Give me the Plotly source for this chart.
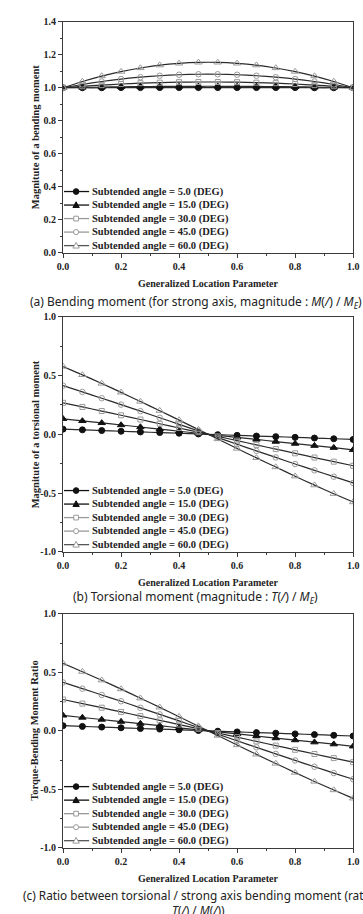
import plotly.graph_objects as go

# ---------------- data ----------------
x_pos = [0.0, 0.0667, 0.1333, 0.2, 0.2667, 0.3333, 0.4, 0.4667,
         0.5333, 0.6, 0.6667, 0.7333, 0.8, 0.8667, 0.9333, 1.0]

angles = ["5.0", "15.0", "30.0", "45.0", "60.0"]

# (a) bending moment magnitude
bend_5 = [1.000, 1.000, 1.000, 1.001, 1.001, 1.001, 1.001, 1.001,
          1.001, 1.001, 1.001, 1.001, 1.001, 1.000, 1.000, 1.000]
bend_15 = [1.000, 1.002, 1.004, 1.006, 1.007, 1.008, 1.008, 1.009,
           1.009, 1.008, 1.008, 1.007, 1.006, 1.004, 1.002, 1.000]
bend_30 = [1.000, 1.009, 1.016, 1.023, 1.028, 1.031, 1.034, 1.035,
           1.035, 1.034, 1.031, 1.028, 1.023, 1.016, 1.009, 1.000]
bend_45 = [1.000, 1.020, 1.038, 1.053, 1.064, 1.073, 1.079, 1.082,
           1.082, 1.079, 1.073, 1.064, 1.053, 1.038, 1.020, 1.000]
bend_60 = [1.000, 1.038, 1.071, 1.098, 1.120, 1.137, 1.148, 1.154,
           1.154, 1.148, 1.137, 1.120, 1.098, 1.071, 1.038, 1.000]

# (b) torsional moment magnitude
tors_5 = [0.044, 0.038, 0.032, 0.026, 0.020, 0.015, 0.009, 0.003,
          -0.003, -0.009, -0.015, -0.020, -0.026, -0.032, -0.038, -0.044]
tors_15 = [0.132, 0.114, 0.097, 0.079, 0.062, 0.044, 0.026, 0.009,
           -0.009, -0.026, -0.044, -0.062, -0.079, -0.097, -0.114, -0.132]
tors_30 = [0.268, 0.233, 0.198, 0.162, 0.126, 0.090, 0.054, 0.018,
           -0.018, -0.054, -0.090, -0.126, -0.162, -0.198, -0.233, -0.268]
tors_45 = [0.414, 0.361, 0.307, 0.253, 0.197, 0.141, 0.085, 0.028,
           -0.028, -0.085, -0.141, -0.197, -0.253, -0.307, -0.361, -0.414]
tors_60 = [0.577, 0.506, 0.433, 0.357, 0.279, 0.201, 0.121, 0.040,
           -0.040, -0.121, -0.201, -0.279, -0.357, -0.433, -0.506, -0.577]

# (c) torque / bending moment ratio
ratio_5 = [0.044, 0.038, 0.032, 0.026, 0.020, 0.015, 0.009, 0.003,
           -0.003, -0.009, -0.015, -0.020, -0.026, -0.032, -0.038, -0.044]
ratio_15 = [0.132, 0.114, 0.097, 0.079, 0.062, 0.044, 0.026, 0.009,
            -0.009, -0.026, -0.044, -0.062, -0.079, -0.097, -0.114, -0.132]
ratio_30 = [0.268, 0.233, 0.198, 0.162, 0.126, 0.090, 0.054, 0.018,
            -0.018, -0.054, -0.090, -0.126, -0.162, -0.198, -0.233, -0.268]
ratio_45 = [0.414, 0.361, 0.307, 0.253, 0.197, 0.141, 0.085, 0.028,
            -0.028, -0.085, -0.141, -0.197, -0.253, -0.307, -0.361, -0.414]
ratio_60 = [0.577, 0.506, 0.433, 0.357, 0.279, 0.201, 0.121, 0.040,
            -0.040, -0.121, -0.201, -0.279, -0.357, -0.433, -0.506, -0.577]

x_ticks = [0.0, 0.2, 0.4, 0.6, 0.8, 1.0]
x_ticklabels = ["0.0", "0.2", "0.4", "0.6", "0.8", "1.0"]
y1_ticks = [0.0, 0.2, 0.4, 0.6, 0.8, 1.0, 1.2, 1.4]
y1_ticklabels = ["0.0", "0.2", "0.4", "0.6", "0.8", "1.0", "1.2", "1.4"]
y23_ticks = [-1.0, -0.5, 0.0, 0.5, 1.0]
y23_ticklabels = ["-1.0", "-0.5", "0.0", "0.5", "1.0"]

# ---------------- layout helpers ----------------
W, H = 363, 914


def fx(p):
    return p / W


def fy(p):
    return 1 - p / H


SERIF = "Liberation Serif"
SANS = "Noto Sans"
AXC = "#3a3a3a"

styles = [  # symbol, marker colour, size, legend line colour
    dict(symbol="circle", mcolor="#111111", size=6, lcol="#111111", kind="fcircle"),
    dict(symbol="triangle-up", mcolor="#111111", size=6.5, lcol="#111111", kind="ftri"),
    dict(symbol="square-open", mcolor="#9a9a9a", size=5, lcol="#9a9a9a", kind="osq"),
    dict(symbol="circle-open", mcolor="#9a9a9a", size=5.5, lcol="#9a9a9a", kind="ocircle"),
    dict(symbol="triangle-up-open", mcolor="#9a9a9a", size=6.5, lcol="#555555", kind="otri"),
]

SL = "<i>/</i>"
panels = [
    dict(top=16, bottom=250, yrange=[0.0, 1.4], yt=y1_ticks, ytl=y1_ticklabels, minor=0.1,
         data=[bend_5, bend_15, bend_30, bend_45, bend_60],
         ytitle="Magnitute of a bending moment",
         caption="(a) Bending moment (for strong axis, magnitude : <i>M</i>(" + SL + ") / <i>M<sub>E</sub></i>)",
         cap_x=196, cap_y=300, cap_anchor="middle", cap_size=12),
    dict(top=315, bottom=553, yrange=[-1.0, 1.0], yt=y23_ticks, ytl=y23_ticklabels, minor=0.25,
         data=[tors_5, tors_15, tors_30, tors_45, tors_60],
         ytitle="Magnitute of a torsional moment",
         caption="(b) Torsional moment (magnitude : <i>T</i>(" + SL + ") / <i>M<sub>E</sub></i>)",
         cap_x=196, cap_y=599, cap_anchor="middle", cap_size=12),
    dict(top=616, bottom=853, yrange=[-1.0, 1.0], yt=y23_ticks, ytl=y23_ticklabels, minor=0.25,
         data=[ratio_5, ratio_15, ratio_30, ratio_45, ratio_60],
         ytitle="Torque-Bending Moment Ratio",
         caption="(c) Ratio between torsional / strong axis bending moment (ratio<br><i>T</i>(" + SL + ") / <i>M</i>(" + SL + "))",
         cap_x=199, cap_y=891, cap_anchor="top", cap_size=11.8),
]

fig = go.Figure()
annotations = []
shapes = []

X0, X1 = 59, 359

for i, p in enumerate(panels):
    n = "" if i == 0 else str(i + 1)
    xa, ya = "x" + n, "y" + n
    for a, vals, st in zip(angles, p["data"], styles):
        fig.add_trace(go.Scatter(
            x=x_pos, y=vals, xaxis=xa, yaxis=ya, mode="lines+markers",
            name="Subtended angle = %s (DEG)" % a, showlegend=False,
            line=dict(color="#2a2a2a", width=1.2, shape="spline", smoothing=0.6),
            marker=dict(symbol=st["symbol"], color=st["mcolor"], size=st["size"],
                        line=dict(color=st["mcolor"], width=1)),
        ))
    axis_common = dict(showline=True, mirror=True, linecolor=AXC, linewidth=1,
                       ticks="outside", ticklen=4, tickwidth=1, tickcolor=AXC,
                       showgrid=False, zeroline=False, ticklabeloverflow="allow",
                       tickfont=dict(family=SERIF, size=10, color="#222", weight="bold"))
    fig.update_layout(**{
        "xaxis" + n: dict(domain=[fx(X0), fx(X1)], anchor=ya, range=[0, 1],
                          tickvals=x_ticks, ticktext=x_ticklabels,
                          minor=dict(tickvals=[0.1, 0.3, 0.5, 0.7, 0.9], ticks="outside",
                                     ticklen=2.5, tickcolor=AXC),
                          **axis_common),
        "yaxis" + n: dict(domain=[fy(p["bottom"]), fy(p["top"])], anchor=xa, range=p["yrange"],
                          tickvals=p["yt"], ticktext=p["ytl"],
                          minor=dict(dtick=p["minor"], tick0=0, ticks="outside",
                                     ticklen=2.5, tickcolor=AXC),
                          **axis_common),
    })
    # y title
    annotations.append(dict(text=p["ytitle"], x=fx(30), y=fy((p["top"] + p["bottom"]) / 2),
                            xref="paper", yref="paper", textangle=-90, showarrow=False,
                            xanchor="center", yanchor="middle",
                            font=dict(family=SERIF, size=10.5, color="#222", weight="bold")))
    # x title
    annotations.append(dict(text="Generalized Location Parameter", x=fx((X0 + X1) / 2),
                            y=fy(p["bottom"] + 31), xref="paper", yref="paper", showarrow=False,
                            xanchor="center", yanchor="middle",
                            font=dict(family=SERIF, size=10, color="#222", weight="bold")))
    # caption
    annotations.append(dict(text=p["caption"], x=fx(p["cap_x"]), y=fy(p["cap_y"]),
                            xref="paper", yref="paper", showarrow=False,
                            xanchor="center", yanchor=p["cap_anchor"],
                            font=dict(family=SANS, size=p["cap_size"], color="#222")))
    # custom legend
    offs = [62, 48.3, 34.6, 20.9, 7.2]
    for a, st, off in zip(angles, styles, offs):
        cy = p["bottom"] - off
        shapes.append(dict(type="line", xref="paper", yref="paper", x0=fx(60), x1=fx(86),
                           y0=fy(cy), y1=fy(cy), line=dict(color=st["lcol"], width=1.3)))
        cx = 72.5
        k = st["kind"]
        if k in ("fcircle", "ocircle"):
            r = 2.9 if k == "fcircle" else 2.6
            shapes.append(dict(type="circle", xref="paper", yref="paper",
                               x0=fx(cx - r), x1=fx(cx + r), y0=fy(cy + r), y1=fy(cy - r),
                               fillcolor=st["mcolor"] if k == "fcircle" else "white",
                               line=dict(color=st["mcolor"], width=1)))
        elif k == "osq":
            r = 2.4
            shapes.append(dict(type="rect", xref="paper", yref="paper",
                               x0=fx(cx - r), x1=fx(cx + r), y0=fy(cy + r), y1=fy(cy - r),
                               fillcolor="white", line=dict(color=st["mcolor"], width=1)))
        else:
            r = 3.3
            path = "M%f,%f L%f,%f L%f,%f Z" % (fx(cx), fy(cy - r), fx(cx - r), fy(cy + r * 0.75),
                                               fx(cx + r), fy(cy + r * 0.75))
            shapes.append(dict(type="path", xref="paper", yref="paper", path=path,
                               fillcolor=st["mcolor"] if k == "ftri" else "white",
                               line=dict(color=st["mcolor"], width=1)))
        annotations.append(dict(text="Subtended angle = %s (DEG)" % a, x=fx(87), y=fy(cy),
                                xref="paper", yref="paper", showarrow=False,
                                xanchor="left", yanchor="middle",
                                font=dict(family=SERIF, size=10.5, color="#222", weight="bold")))

fig.update_layout(width=W, height=H, margin=dict(l=0, r=0, t=0, b=0),
                  paper_bgcolor="white", plot_bgcolor="white",
                  annotations=annotations, shapes=shapes, showlegend=False)

fig.write_html("out.html")
